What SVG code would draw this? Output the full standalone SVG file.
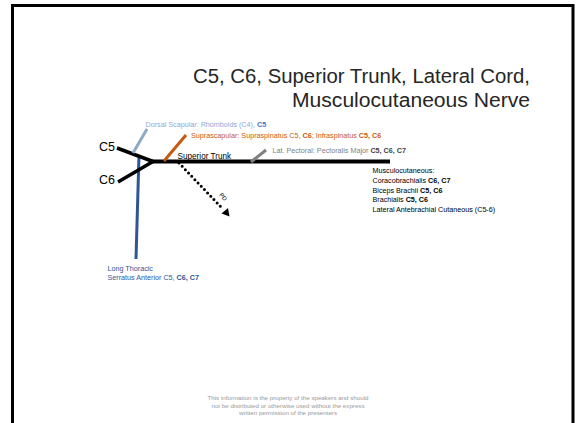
<svg xmlns="http://www.w3.org/2000/svg" width="577" height="423" viewBox="0 0 577 423">
<style>
text{font-family:"Liberation Sans",Arial,sans-serif}
.nerve{fill:none;stroke-linecap:butt}
.small{font-size:7.2px}
.b{font-weight:bold}
</style>
<rect x="0" y="0" width="577" height="423" fill="#fff"/>
<rect x="12.5" y="5.5" width="560.5" height="450" fill="none" stroke="#000" stroke-width="3"/>
<g id="title">
<text x="530" y="83" font-size="19.5" fill="#262626" text-anchor="end" textLength="337" lengthAdjust="spacingAndGlyphs">C5, C6, Superior Trunk, Lateral Cord,</text>
<text x="530" y="107" font-size="19.5" fill="#262626" text-anchor="end" textLength="238" lengthAdjust="spacingAndGlyphs">Musculocutaneous Nerve</text>
</g>
<g id="connectors">
<line class="nerve" x1="139" y1="155" x2="136" y2="259" stroke="#2F5597" stroke-width="3"/>
<line class="nerve" x1="117" y1="148" x2="153" y2="161.5" stroke="#000" stroke-width="3.5"/>
<line class="nerve" x1="118" y1="182" x2="153" y2="161.5" stroke="#000" stroke-width="3.5"/>
<line class="nerve" x1="152" y1="161.5" x2="390" y2="161.5" stroke="#000" stroke-width="4"/>
<line class="nerve" x1="133" y1="153" x2="147" y2="129" stroke="#8EA9C1" stroke-width="3"/>
<line class="nerve" x1="164" y1="161" x2="186" y2="135" stroke="#C55A11" stroke-width="3"/>
<line class="nerve" x1="251" y1="162" x2="266" y2="150" stroke="#7F7F7F" stroke-width="3"/>
<line x1="179" y1="163" x2="221" y2="207" stroke="#000" stroke-width="3" stroke-linecap="round" stroke-dasharray="0 4.6"/>
<polygon points="221.5,213.5 228,208 229.5,216.5" fill="#000"/>
<text x="0" y="0" font-size="6" fill="#000" transform="translate(219,195) rotate(50)">PD</text>
</g>
<g id="C5"><text x="99" y="150.5" font-size="12.5" fill="#000">C5</text></g>
<g id="C6"><text x="99" y="183.5" font-size="12.5" fill="#000">C6</text></g>
<g id="superior-trunk"><text x="177.5" y="158.5" font-size="8.2" fill="#000">Superior Trunk</text></g>
<g id="dorsal-scapular"><text class="small" x="145.5" y="127" fill="#8EA9DB">Dorsal Scapular: Rhomboids (C4), <tspan class="b" fill="#4472C4">C5</tspan></text></g>
<g id="suprascapular"><text class="small" x="191" y="138" fill="#C55A11">Suprascapular: Supraspinatus C5, <tspan class="b">C6</tspan>; Infraspinatus <tspan class="b">C5, C6</tspan></text></g>
<g id="lat-pectoral"><text class="small" x="272.5" y="153" fill="#7F7F7F">Lat. Pectoral: Pectoralis Major <tspan class="b" fill="#404040">C5, C6, C7</tspan></text></g>
<g id="musculocutaneous">
<text class="small" x="372.5" y="172.5" fill="#000">Musculocutaneous:</text>
<text class="small" x="372.5" y="182.5" fill="#000">Coracobrachialis <tspan class="b">C6, C7</tspan></text>
<text class="small" x="372.5" y="192.5" fill="#000">Biceps Brachii <tspan class="b">C5, C6</tspan></text>
<text class="small" x="372.5" y="202" fill="#000">Brachialis <tspan class="b">C5, C6</tspan></text>
<text class="small" x="372.5" y="212" fill="#000">Lateral Antebrachial Cutaneous (C5-6)</text>
</g>
<g id="long-thoracic">
<text class="small" x="107.5" y="270.5" fill="#2F5597">Long Thoracic</text>
<text class="small" x="107.5" y="280" fill="#2F5597">Serratus Anterior C5, <tspan class="b">C6, C7</tspan></text>
</g>
<g id="footer" fill="#999" font-size="6.2" text-anchor="middle">
<text x="288" y="400">This information is the property of the speakers and should</text>
<text x="288" y="407.5">not be distributed or otherwise used without the express</text>
<text x="288" y="415">written permission of the presenters</text>
</g>
</svg>
